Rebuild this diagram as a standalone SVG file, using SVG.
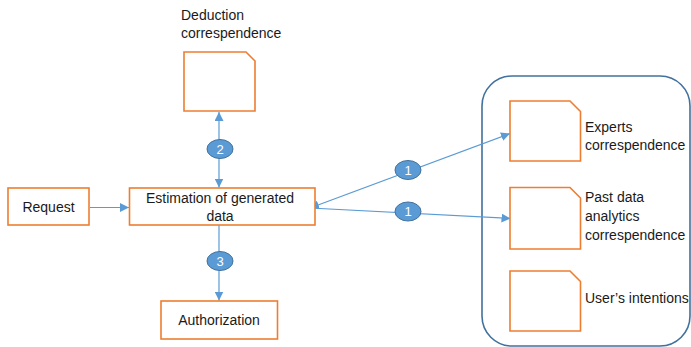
<svg xmlns="http://www.w3.org/2000/svg" width="691" height="347" viewBox="0 0 691 347">
<defs>
<style>
.box{fill:#fff;stroke:#ED7D31;stroke-width:1.6}
.doc{fill:#fff;stroke:#ED7D31;stroke-width:1.6}
.lbl{font-family:"Liberation Sans",Arial,sans-serif;font-size:14px;fill:#1a1a1a}
.con{stroke:#5B9BD5;stroke-width:1.2;fill:none}
.badge{fill:#5B9BD5;stroke:#41719C;stroke-width:1}
.btxt{font-family:"Liberation Sans",Arial,sans-serif;font-size:13px;fill:#fff;text-anchor:middle}
</style>
<marker id="ah" viewBox="0 0 10 10" refX="10" refY="5" markerWidth="9" markerHeight="9" markerUnits="userSpaceOnUse" orient="auto-start-reverse">
<path d="M0,0 L10,5 L0,10 z" fill="#5B9BD5"/>
</marker>
</defs>
<rect x="0" y="0" width="691" height="347" fill="#fff"/>

<g id="group-container">
<rect x="482" y="76" width="208" height="270" rx="30" ry="30" fill="none" stroke="#41719C" stroke-width="1.6"/>
</g>

<g id="connectors">
<line class="con" x1="90" y1="207.5" x2="129" y2="207.5" marker-end="url(#ah)"/>
<line class="con" x1="219" y1="112" x2="219" y2="187.5" marker-start="url(#ah)" marker-end="url(#ah)"/>
<line class="con" x1="219" y1="225" x2="219" y2="300.5" marker-end="url(#ah)"/>
<line class="con" x1="310" y1="208" x2="510" y2="133.5" marker-start="url(#ah)" marker-end="url(#ah)"/>
<line class="con" x1="310" y1="208" x2="510.5" y2="218.5" marker-end="url(#ah)"/>
</g>

<g id="badges">
<g id="badge-2"><ellipse class="badge" cx="220" cy="149" rx="13" ry="9.5"/><text class="btxt" x="220" y="153.5">2</text></g>
<g id="badge-3"><ellipse class="badge" cx="220" cy="261" rx="13" ry="9.5"/><text class="btxt" x="220" y="265.5">3</text></g>
<g id="badge-1a"><ellipse class="badge" cx="408" cy="170" rx="13" ry="9.5"/><text class="btxt" x="408" y="174.5">1</text></g>
<g id="badge-1b"><ellipse class="badge" cx="408" cy="211.5" rx="13" ry="9.5"/><text class="btxt" x="408" y="216">1</text></g>
</g>

<g id="deduction">
<path class="doc" d="M184,52 H246 L255,61 V111 H184 Z"/>
<text class="lbl" x="181" y="20">Deduction</text>
<text class="lbl" x="181" y="38">correspendence</text>
</g>

<g id="request">
<rect class="box" x="8" y="188" width="81" height="37"/>
<text class="lbl" x="48.5" y="212" text-anchor="middle">Request</text>
</g>

<g id="estimation">
<rect class="box" x="129.5" y="188" width="185.5" height="37"/>
<text class="lbl" x="220" y="203" text-anchor="middle" textLength="148" lengthAdjust="spacingAndGlyphs">Estimation of generated</text>
<text class="lbl" x="220" y="221" text-anchor="middle">data</text>
</g>

<g id="authorization">
<rect class="box" x="161" y="301" width="116.5" height="38"/>
<text class="lbl" x="219" y="325" text-anchor="middle">Authorization</text>
</g>

<g id="experts">
<path class="doc" d="M510,101 H570 L580.5,111.5 V161 H510 Z"/>
<text class="lbl" x="585" y="132">Experts</text>
<text class="lbl" x="585" y="150">correspendence</text>
</g>

<g id="pastdata">
<path class="doc" d="M510,187.5 H570 L580.5,198 V249 H510 Z"/>
<text class="lbl" x="585" y="202">Past data</text>
<text class="lbl" x="585" y="221">analytics</text>
<text class="lbl" x="585" y="240">correspendence</text>
</g>

<g id="intentions">
<path class="doc" d="M510,271 H570 L580.5,281.5 V331 H510 Z"/>
<text class="lbl" x="585" y="303">User’s intentions</text>
</g>
</svg>
